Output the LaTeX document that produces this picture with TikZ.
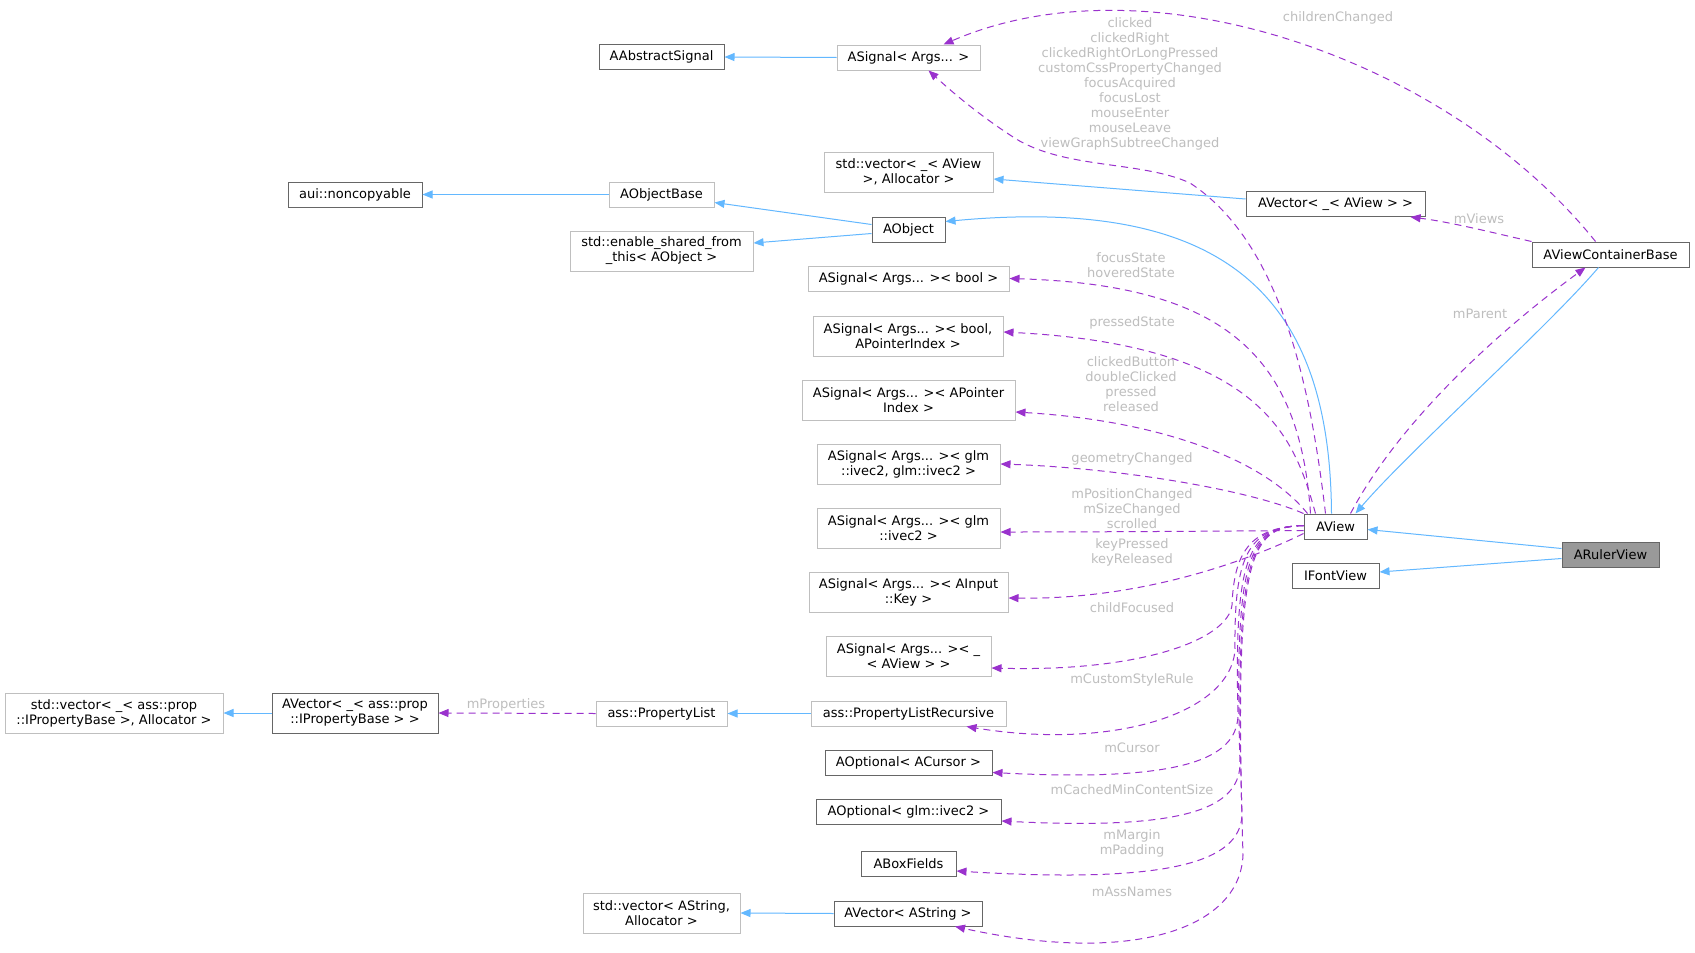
\documentclass[tikz,border=0pt]{standalone}
\usepackage{fontspec}
\setmainfont{DejaVu Sans}
\usetikzlibrary{arrows.meta}
\definecolor{inh}{HTML}{63B8FF}
\definecolor{col}{HTML}{9A32CD}
\definecolor{dk}{HTML}{666666}
\definecolor{lt}{HTML}{BFBFBF}
\definecolor{lbl}{HTML}{BEBEBE}
\definecolor{sel}{HTML}{999999}
\tikzset{
  nd/.style={draw=#1, line width=1pt, inner sep=0pt, minimum height=25pt, align=center, font=\fontsize{13}{15}\selectfont, text=black},
  nd/.default=dk,
  two/.style={minimum height=40pt},
  lab/.style={inner sep=0pt, align=center, font=\fontsize{13}{15}\selectfont, text=lbl},
  inhe/.style={draw=inh, line width=1pt, -{Triangle[length=10pt,width=8pt]}},
  cole/.style={draw=col, line width=1pt, dash pattern=on 7pt off 5pt, -{Triangle[length=10pt,width=8pt]}}
}
\begin{document}
\begin{tikzpicture}[x=1pt,y=-1pt]
\useasboundingbox[fill=white] (0,0) rectangle (1695,953);
% nodes
\node[nd, minimum width=125pt] (aas) at (661.5,57) {AAbstractSignal};
\node[nd=lt, minimum width=143pt] (asig) at (908.5,57.5) {ASignal< Args... >};
\node[nd, minimum width=134pt] (noncopy) at (355,194.5) {aui::noncopyable};
\node[nd=lt, minimum width=105pt] (aobjbase) at (661.5,194.5) {AObjectBase};
\node[nd, minimum width=73pt] (aobj) at (908.5,229.5) {AObject};
\node[nd=lt, two, minimum width=183pt] (enable) at (661.5,251) {std::enable\_shared\_from\\\_this< AObject >};
\node[nd=lt, two, minimum width=169pt] (vecview) at (908.5,172) {std::vector< \_< AView\\>, Allocator >};
\node[nd, minimum width=179pt] (avecview) at (1335.5,204) {AVector< \_< AView > >};
\node[nd, minimum width=157pt] (avcb) at (1610.5,254.5) {AViewContainerBase};
\node[nd=lt, minimum width=201pt] (sigbool) at (908.5,278.5) {ASignal< Args... >< bool >};
\node[nd=lt, two, minimum width=190pt] (sigbp) at (908,336) {ASignal< Args... >< bool,\\APointerIndex >};
\node[nd=lt, two, minimum width=213pt] (sigpi) at (908.5,400) {ASignal< Args... >< APointer\\Index >};
\node[nd=lt, two, minimum width=183pt] (sigvv) at (908.5,464) {ASignal< Args... >< glm\\::ivec2, glm::ivec2 >};
\node[nd=lt, two, minimum width=183pt] (sigv) at (908.5,528) {ASignal< Args... >< glm\\::ivec2 >};
\node[nd=lt, two, minimum width=199pt] (sigkey) at (908.5,592) {ASignal< Args... >< AInput\\::Key >};
\node[nd=lt, two, minimum width=165pt] (sigview) at (908.5,656) {ASignal< Args... >< \_\\< AView > >};
\node[nd=lt, minimum width=195pt] (plr) at (908.5,713.5) {ass::PropertyListRecursive};
\node[nd, minimum width=167pt] (optcur) at (908.5,762.5) {AOptional< ACursor >};
\node[nd, minimum width=185pt] (optv) at (908.5,812) {AOptional< glm::ivec2 >};
\node[nd, minimum width=95pt] (boxf) at (908.5,864) {ABoxFields};
\node[nd, minimum width=148pt] (avecstr) at (908,913.5) {AVector< AString >};
\node[nd=lt, two, minimum width=157pt] (vecstr) at (661.5,913) {std::vector< AString,\\Allocator >};
\node[nd=lt, minimum width=131pt] (plist) at (661.5,713.5) {ass::PropertyList};
\node[nd, two, minimum width=166pt] (avecprop) at (355,713) {AVector< \_< ass::prop\\::IPropertyBase > >};
\node[nd=lt, two, minimum width=218pt] (vecprop) at (114,713) {std::vector< \_< ass::prop\\::IPropertyBase >, Allocator >};
\node[nd, minimum width=63pt] (aview) at (1335.5,526.5) {AView};
\node[nd, minimum width=87pt] (ifont) at (1335.5,576) {IFontView};
\node[nd, fill=sel, minimum width=97pt] (ruler) at (1610.5,554.5) {ARulerView};
% inheritance edges
\draw[inhe] (asig.west) -- (aas.east);
\draw[inhe] (aobjbase.west) -- (noncopy.east);
\draw[inhe] ([yshift=5pt]aobj.west) -- ([yshift=-8pt]aobjbase.east);
\draw[inhe] ([yshift=-4pt]aobj.west) -- ([yshift=8pt]enable.east);
\draw[inhe] ([yshift=5pt]avecview.west) -- ([yshift=-7pt]vecview.east);
\draw[inhe] ([xshift=-4pt]aview.north) .. controls (1330,300) and (1230,195) .. ([yshift=8pt]aobj.east);
\draw[inhe] ([xshift=-12pt]avcb.south) .. controls (1545,330) and (1410,450) .. ([xshift=20pt]aview.north);
\draw[inhe] ([yshift=6pt]ruler.west) -- ([yshift=-3pt]aview.east);
\draw[inhe] ([yshift=-4pt]ruler.west) -- ([yshift=4pt]ifont.east);
\draw[inhe] (avecprop.west) -- (vecprop.east);
\draw[inhe] (plr.west) -- (plist.east);
\draw[inhe] (avecstr.west) -- (vecstr.east);
% collaboration edges
\draw[cole] (plist.west) -- (avecprop.east);
\draw[cole] ([xshift=-15pt]avcb.north) .. controls (1450,60) and (1150,-45) .. ([xshift=35pt]asig.north);
\draw[cole] (avcb.north west) .. controls (1490,232) and (1450,222) .. ([xshift=75pt]avecview.south);
\draw[cole] ([xshift=15pt]aview.north) .. controls (1400,420) and (1500,330) .. ([xshift=-25pt]avcb.south);
\draw[cole] ([xshift=-10pt]aview.north) .. controls (1312,400) and (1285,245) .. (1190,183) .. controls (1140,160) and (1060,170) .. (1010,135) .. controls (975,112) and (950,90) .. ([xshift=20pt]asig.south);
\draw[cole] ([xshift=-25pt]aview.north) .. controls (1300,360) and (1230,285) .. (sigbool.east);
\draw[cole] ([xshift=-20pt]aview.north) .. controls (1295,440) and (1265,345) .. ([yshift=4pt]sigbp.east);
\draw[cole] ([xshift=-28pt]aview.north) .. controls (1260,455) and (1150,420) .. ([yshift=-12pt]sigpi.east);
\draw[cole] (aview.north west) .. controls (1250,490) and (1120,468) .. (sigvv.east);
\draw[cole] ([yshift=-4pt]aview.west) .. controls (1240,531) and (1100,532) .. ([yshift=-4pt]sigv.east);
\draw[cole] ([yshift=-7pt]aview.west) .. controls (1260,555) and (1150,600) .. ([yshift=-6pt]sigkey.east);
\draw[cole] ([yshift=1pt]aview.west) .. controls (1248,527) and (1234,555) .. (1232,605) .. controls (1228,640) and (1140,672) .. ([yshift=-12pt]sigview.east);
\draw[cole] ([yshift=1pt]aview.west) .. controls (1248,527) and (1234,555) .. (1235,650) .. controls (1230,715) and (1110,750) .. ([xshift=58pt]plr.south);
\draw[cole] ([yshift=1pt]aview.west) .. controls (1248,527) and (1234,555) .. (1238,715) .. controls (1237,760) and (1180,782) .. ([yshift=-10pt]optcur.east);
\draw[cole] ([yshift=1pt]aview.west) .. controls (1248,527) and (1234,555) .. (1240,765) .. controls (1238,810) and (1180,830) .. ([yshift=-9pt]optv.east);
\draw[cole] ([yshift=1pt]aview.west) .. controls (1248,527) and (1234,555) .. (1242,815) .. controls (1240,862) and (1170,884) .. ([yshift=-7pt]boxf.east);
\draw[cole] ([yshift=1pt]aview.west) .. controls (1248,527) and (1234,555) .. (1243,855) .. controls (1240,930) and (1130,965) .. ([xshift=47pt]avecstr.south);
% labels
\node[lab] (lchildren) at (1338,18) {childrenChanged};
\node[lab] (lclicked) at (1130,84) {clicked\\clickedRight\\clickedRightOrLongPressed\\customCssPropertyChanged\\focusAcquired\\focusLost\\mouseEnter\\mouseLeave\\viewGraphSubtreeChanged};
\node[lab] (lfocus) at (1131,265.5) {focusState\\hoveredState};
\node[lab] (lpressed) at (1132,323) {pressedState};
\node[lab] (lcbutton) at (1131,384.5) {clickedButton\\doubleClicked\\pressed\\released};
\node[lab] (lgeom) at (1132,459) {geometryChanged};
\node[lab] (lmpos) at (1132,508.5) {mPositionChanged\\mSizeChanged\\scrolled};
\node[lab] (lkey) at (1132,552) {keyPressed\\keyReleased};
\node[lab] (lchildf) at (1132,608) {childFocused};
\node[lab] (lcust) at (1132,680) {mCustomStyleRule};
\node[lab] (lcursor) at (1132,748) {mCursor};
\node[lab] (lcached) at (1132,790) {mCachedMinContentSize};
\node[lab] (lmargin) at (1132,843) {mMargin\\mPadding};
\node[lab] (lass) at (1132,892) {mAssNames};
\node[lab] (lviews) at (1479,219) {mViews};
\node[lab] (lparent) at (1480,314) {mParent};
\node[lab] (lprops) at (506,705) {mProperties};
\end{tikzpicture}
\end{document}
